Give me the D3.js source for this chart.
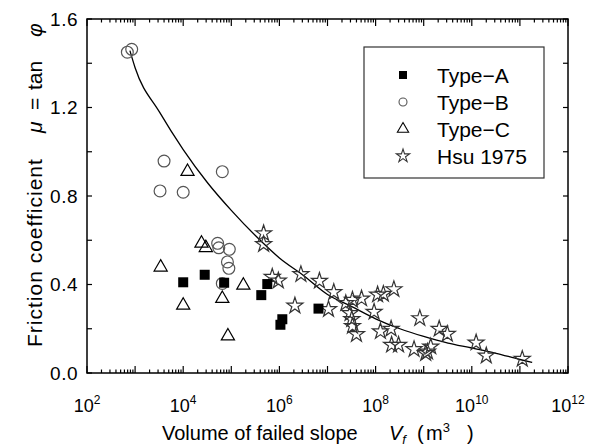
<!DOCTYPE html>
<html>
<head>
<meta charset="utf-8">
<script src="https://cdn.jsdelivr.net/npm/d3@7"></script>
<style>
  body { margin: 0; background: #fff; }
  text { font-family: "Liberation Sans", Arial, sans-serif; fill: #000; }
</style>
</head>
<body>
<div id="d3-container"></div>
<script>
//CONSTANTS AND GLOBALS
const width = 589,
  height = 448,
  margin = { top: 19, bottom: 75, left: 87, right: 21 };

// data: [volume m3, friction coefficient]
const typeA = [
  [1.0e4, 0.41], [2.8e4, 0.444], [7.1e4, 0.408], [5.6e5, 0.402],
  [4.2e5, 0.352], [1.15e6, 0.243], [1.05e6, 0.218], [6.5e6, 0.291]
];
const typeB = [
  [6.9e2, 1.45], [8.5e2, 1.463], [4.0e3, 0.958], [6.5e4, 0.91],
  [3.3e3, 0.823], [1.0e4, 0.817], [5.2e4, 0.586], [5.5e4, 0.566],
  [9.1e4, 0.559], [8.3e4, 0.502], [8.9e4, 0.473], [6.5e4, 0.405]
];
const typeC = [
  [1.23e4, 0.91], [2.4e4, 0.586], [2.95e4, 0.566], [3.4e3, 0.478],
  [1.78e5, 0.396], [1.0e4, 0.306], [6.5e4, 0.336], [8.5e4, 0.167]
];
const hsu1975 = [
  [4.7e5, 0.631], [4.7e5, 0.582], [7.1e5, 0.434], [9.5e5, 0.417],
  [2.1e6, 0.304], [2.8e6, 0.446], [6.8e6, 0.416], [1.35e7, 0.365],
  [1.05e7, 0.288], [2.4e7, 0.315], [3.3e7, 0.33], [5.1e7, 0.336],
  [2.95e7, 0.27], [3.2e7, 0.243], [3.3e7, 0.212], [4.0e7, 0.175],
  [9.3e7, 0.276], [1.1e8, 0.354], [1.45e8, 0.357], [2.4e8, 0.378],
  [1.26e8, 0.188], [2.1e8, 0.199], [2.15e8, 0.127], [3.0e8, 0.127],
  [6.3e8, 0.107], [8.3e8, 0.247], [1.1e9, 0.089], [1.2e9, 0.096],
  [1.4e9, 0.119], [2.1e9, 0.199], [3.1e9, 0.176], [1.23e10, 0.137],
  [2.0e10, 0.078], [1.12e11, 0.063]
];
// fitted curve, read at points along it
const fitCurve = [
  [7.8e2, 1.457], [1e3, 1.38], [3.2e3, 1.18], [1e4, 1.01], [3.2e4, 0.86],
  [1e5, 0.735], [3.2e5, 0.62], [1e6, 0.52], [3.2e6, 0.44], [1e7, 0.355],
  [3.2e7, 0.30], [1e8, 0.245], [3.2e8, 0.20], [1e9, 0.165], [3.2e9, 0.135],
  [1e10, 0.113], [3.2e10, 0.089], [1e11, 0.061], [1.8e11, 0.048]
];

const xLabelExps = [2, 4, 6, 8, 10, 12];
const yLabels = [0.0, 0.4, 0.8, 1.2, 1.6];
const legendNames = ["Type-A", "Type-B", "Type-C", "Hsu 1975"];

let svg;
let xScale;
let yScale;

init();

//INITIALIZING FUNCTION
function init() {
  xScale = d3.scaleLog()
    .domain([1e2, 1e12])
    .range([margin.left, width - margin.right]);

  yScale = d3.scaleLinear()
    .domain([0, 1.6])
    .range([height - margin.bottom, margin.top]);

  svg = d3.select("#d3-container")
    .append("svg")
    .attr("width", width)
    .attr("height", height);

  drawAxes();
  draw();
  drawLegend();
}

function drawAxes() {
  const x0 = margin.left, x1 = width - margin.right;
  const y0 = height - margin.bottom, y1 = margin.top;

  // log ticks: decades long, 2..9 short
  const xTicks = [];
  for (let e = 2; e < 12; e++) {
    for (let m = 1; m < 10; m++) xTicks.push({ v: m * Math.pow(10, e), major: m === 1 });
  }
  xTicks.push({ v: 1e12, major: true });

  const ticks = svg.append("g").attr("stroke", "#000").attr("stroke-width", 1.2);
  xTicks.forEach(t => {
    const px = xScale(t.v), len = t.major ? 7 : 3.5;
    ticks.append("line").attr("x1", px).attr("x2", px).attr("y1", y0).attr("y2", y0 - len);
    ticks.append("line").attr("x1", px).attr("x2", px).attr("y1", y1).attr("y2", y1 + len);
  });
  d3.range(0, 1.61, 0.2).forEach(v => {
    const py = yScale(v);
    ticks.append("line").attr("x1", x0).attr("x2", x0 + 5).attr("y1", py).attr("y2", py);
    ticks.append("line").attr("x1", x1).attr("x2", x1 - 5).attr("y1", py).attr("y2", py);
  });

  svg.append("rect")
    .attr("x", x0).attr("y", y1)
    .attr("width", x1 - x0).attr("height", y0 - y1)
    .attr("fill", "none").attr("stroke", "#000").attr("stroke-width", 1.5);

  // y tick labels
  svg.append("g").selectAll("text")
    .data(yLabels)
    .join("text")
    .attr("x", x0 - 9)
    .attr("y", d => yScale(d))
    .attr("dy", "0.36em")
    .attr("text-anchor", "end")
    .attr("font-size", 19)
    .attr("letter-spacing", 0.5)
    .text(d => d.toFixed(1));

  // x tick labels with superscripts
  const xl = svg.append("g").selectAll("text")
    .data(xLabelExps)
    .join("text")
    .attr("x", d => xScale(Math.pow(10, d)))
    .attr("y", y0 + 39)
    .attr("text-anchor", "middle")
    .attr("font-size", 18);
  xl.append("tspan").text("10");
  xl.append("tspan").attr("dy", -8).attr("font-size", 12).text(d => d);

  // axis titles
  const xt = svg.append("text")
    .attr("x", 162).attr("y", 440)
    .attr("font-size", 20);
  xt.append("tspan").text("Volume of failed slope");
  xt.append("tspan").attr("x", 389).attr("font-style", "italic").text("V");
  xt.append("tspan").attr("font-style", "italic").attr("font-size", 13).attr("dy", 4).text("f");
  xt.append("tspan").attr("x", 417).attr("dy", -4).text("(");
  xt.append("tspan").attr("x", 426).text("m");
  xt.append("tspan").attr("dy", -8).attr("font-size", 13).text("3");
  xt.append("tspan").attr("x", 467).attr("dy", 8).text(")");

  const yt = svg.append("text")
    .attr("transform", "translate(42,347) rotate(-90)")
    .attr("font-size", 21);
  yt.append("tspan").attr("x", 0).attr("letter-spacing", 1).text("Friction coefficient");
  yt.append("tspan").attr("x", 214).attr("font-style", "italic").text("μ");
  yt.append("tspan").attr("x", 237).text("=");
  yt.append("tspan").attr("x", 257).text("tan");
  yt.append("tspan").attr("x", 310).attr("font-style", "italic").text("φ");
}

//DRAW FUNCTION
function draw() {
  const line = d3.line()
    .x(d => xScale(d[0]))
    .y(d => yScale(d[1]))
    .curve(d3.curveMonotoneX);

  svg.append("path")
    .datum(fitCurve)
    .attr("d", line)
    .attr("fill", "none")
    .attr("stroke", "#000")
    .attr("stroke-width", 1.3);

  const star = d3.symbol().type(d3.symbolStar).size(80);
  const circle = d3.symbol().type(d3.symbolCircle).size(110);
  const tri = d3.symbol().type(d3.symbolTriangle).size(75);

  svg.append("g").selectAll("path")
    .data(hsu1975)
    .join("path")
    .attr("transform", d => `translate(${xScale(d[0])},${yScale(d[1])})`)
    .attr("d", star)
    .attr("fill", "none")
    .attr("stroke", "#333")
    .attr("stroke-width", 1.2);

  svg.append("g").selectAll("path")
    .data(typeB)
    .join("path")
    .attr("transform", d => `translate(${xScale(d[0])},${yScale(d[1])})`)
    .attr("d", circle)
    .attr("fill", "none")
    .attr("stroke", "#555")
    .attr("stroke-width", 1.2);

  svg.append("g").selectAll("path")
    .data(typeC)
    .join("path")
    .attr("transform", d => `translate(${xScale(d[0])},${yScale(d[1])})`)
    .attr("d", tri)
    .attr("fill", "none")
    .attr("stroke", "#000")
    .attr("stroke-width", 1.2);

  svg.append("g").selectAll("rect")
    .data(typeA)
    .join("rect")
    .attr("x", d => xScale(d[0]) - 5)
    .attr("y", d => yScale(d[1]) - 5)
    .attr("width", 10)
    .attr("height", 10)
    .attr("fill", "#000");
}

function drawLegend() {
  const lg = svg.append("g");
  lg.append("rect")
    .attr("x", 364).attr("y", 47)
    .attr("width", 180).attr("height", 131)
    .attr("fill", "#fff").attr("stroke", "#333").attr("stroke-width", 1.2);

  const rowY = i => 75 + i * 27;
  const sx = 403;

  lg.append("rect").attr("x", sx - 4).attr("y", rowY(0) - 4).attr("width", 8).attr("height", 8).attr("fill", "#000");
  lg.append("path").attr("transform", `translate(${sx},${rowY(1)})`)
    .attr("d", d3.symbol().type(d3.symbolCircle).size(50))
    .attr("fill", "none").attr("stroke", "#555").attr("stroke-width", 1.1);
  lg.append("path").attr("transform", `translate(${sx},${rowY(2)})`)
    .attr("d", d3.symbol().type(d3.symbolTriangle).size(55))
    .attr("fill", "none").attr("stroke", "#000").attr("stroke-width", 1.1);
  lg.append("path").attr("transform", `translate(${sx},${rowY(3)})`)
    .attr("d", d3.symbol().type(d3.symbolStar).size(55))
    .attr("fill", "none").attr("stroke", "#333").attr("stroke-width", 1.1);

  lg.selectAll("text.name")
    .data(legendNames)
    .join("text")
    .attr("class", "name")
    .attr("x", 437)
    .attr("y", (d, i) => rowY(i))
    .attr("dy", "0.36em")
    .attr("font-size", 21)
    .text(d => d.replace("-", "\u2212"));
}
</script>
</body>
</html>
